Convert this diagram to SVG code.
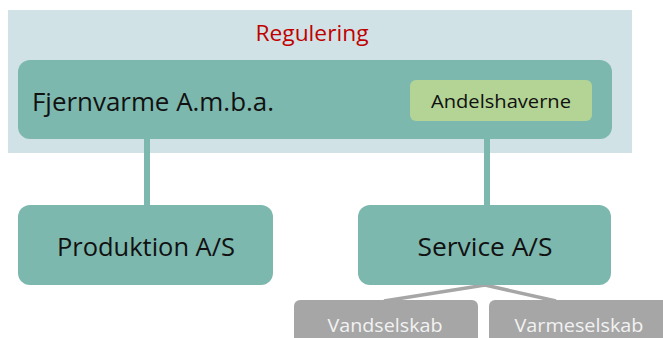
<svg xmlns="http://www.w3.org/2000/svg" width="663" height="338" viewBox="0 0 663 338">
  <style>
    .node { fill: #7db8ae; }
    .sub { fill: #a6a6a6; }
    .lbl { font-family: "Open Sans", "Liberation Sans", sans-serif; fill: #111; }
    .sublbl { font-family: "Open Sans", "Liberation Sans", sans-serif; fill: #f2f2f2; font-size: 19px; }
    .link { stroke: #7db8ae; stroke-width: 6; fill: none; }
    .sublink { stroke: #a6a6a6; stroke-width: 3.5; fill: none; }
  </style>
  <rect id="regulering-bg" x="8" y="10" width="624" height="143" fill="#d0e2e6"/>
  <g id="connectors">
    <line class="link" x1="147" y1="136" x2="147" y2="207"/>
    <line class="link" x1="487" y1="136" x2="487" y2="207"/>
    <polyline class="sublink" points="384,301 485,285 556,301"/>
  </g>
  <g id="regulering">
    <text x="312" y="41" text-anchor="middle" font-family="Open Sans, Liberation Sans, sans-serif" font-size="22" fill="#c00000" textLength="113" lengthAdjust="spacingAndGlyphs">Regulering</text>
  </g>
  <g id="fjernvarme">
    <rect class="node" x="18" y="60" width="594" height="79" rx="12"/>
    <text class="lbl" x="32" y="111" font-size="26" textLength="242" lengthAdjust="spacingAndGlyphs">Fjernvarme A.m.b.a.</text>
  </g>
  <g id="andelshaverne">
    <rect x="410" y="80" width="182" height="41" rx="6" fill="#b3d494"/>
    <text class="lbl" x="501" y="108" text-anchor="middle" font-size="19" textLength="140" lengthAdjust="spacingAndGlyphs">Andelshaverne</text>
  </g>
  <g id="produktion">
    <rect class="node" x="18" y="205" width="255" height="80" rx="12"/>
    <text class="lbl" x="146" y="256" text-anchor="middle" font-size="26" textLength="178" lengthAdjust="spacingAndGlyphs">Produktion A/S</text>
  </g>
  <g id="service">
    <rect class="node" x="358" y="205" width="253" height="80" rx="12"/>
    <text class="lbl" x="485" y="256" text-anchor="middle" font-size="26" textLength="135" lengthAdjust="spacingAndGlyphs">Service A/S</text>
  </g>
  <g id="vandselskab">
    <rect class="sub" x="294" y="300" width="184" height="50" rx="6"/>
    <text class="sublbl" x="385" y="332" text-anchor="middle" textLength="115" lengthAdjust="spacingAndGlyphs">Vandselskab</text>
  </g>
  <g id="varmeselskab">
    <rect class="sub" x="489" y="300" width="184" height="50" rx="6"/>
    <text class="sublbl" x="579" y="332" text-anchor="middle" textLength="129" lengthAdjust="spacingAndGlyphs">Varmeselskab</text>
  </g>
</svg>
